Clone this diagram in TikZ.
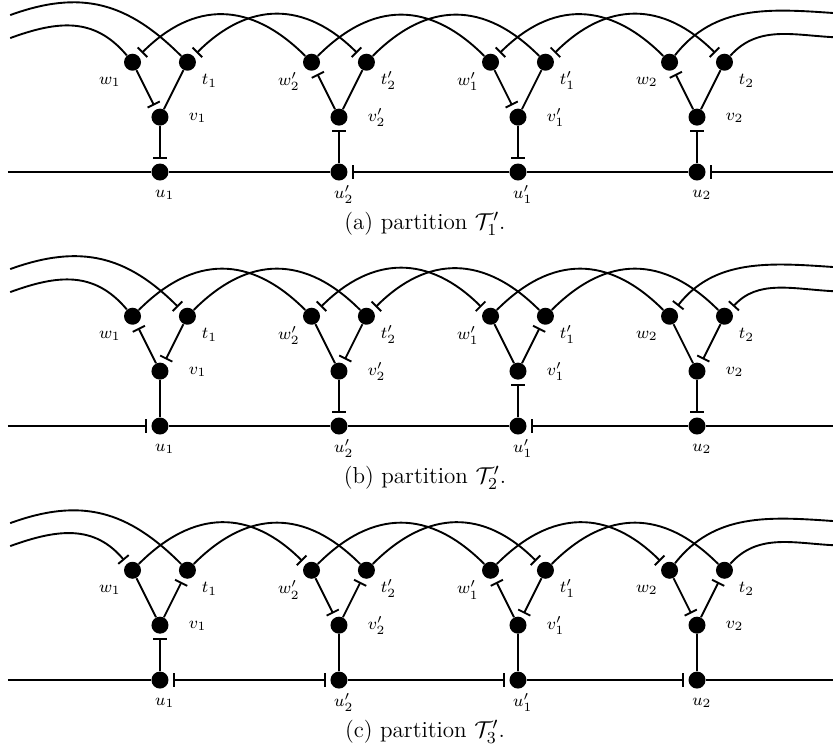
\documentclass[tikz,border=0pt]{standalone}
\usepackage{amsmath, amssymb}
\usetikzlibrary{arrows.meta, calc}

\begin{document}
\begin{tikzpicture}[
  vert/.style={circle, fill=black, inner sep=0pt, minimum size=0.285cm},
  lbl/.style={font=\footnotesize, inner sep=1pt},
  captext/.style={font=\fontsize{11}{13}\selectfont, inner sep=1pt},
  lnk/.style={line width=0.9pt},
  tee/.style={lnk, -{Bar[width=6.5pt]}, shorten >=2pt},
  eet/.style={lnk, {Bar[width=6.5pt]}-, shorten <=2pt},
  teeboth/.style={lnk, {Bar[width=6.5pt]}-{Bar[width=6.5pt]}, shorten >=2pt, shorten <=2pt},
  hop/.style={out=45, in=135, looseness=1.2},
  fromleft/.style={out=20, in=135, looseness=1.1},
  fromleftlow/.style={out=20, in=130, looseness=1.1},
  toright/.style={out=52, in=176},
  torightlow/.style={out=48, in=177}
]
\useasboundingbox (-2.681,2.883) rectangle (11.279,-9.754);

% vertices, labels and captions of the three partitions
\foreach \p/\dy/\k in {a/0/1, b/-4.257/2, c/-8.514/3} {
  \begin{scope}[yshift=\dy cm]
    \foreach \g/\pr/\n [count=\i from 0] in {1//1, 2p/'/2, 1p/'/1, 2//2} {
      \node[vert] (\p-w\g) at (3*\i-0.46, 1.84) {};
      \node[vert] (\p-t\g) at (3*\i+0.46, 1.84) {};
      \node[vert] (\p-v\g) at (3*\i, 0.92) {};
      \node[vert] (\p-u\g) at (3*\i, 0) {};
      \node[lbl] (\p-lw\g) at (3*\i-0.84, 1.51) {$w\pr_\n$};
      \node[lbl] (\p-lt\g) at (3*\i+0.83, 1.53) {$t\pr_\n$};
      \node[lbl] (\p-lv\g) at (3*\i+0.63, 0.91) {$v\pr_\n$};
      \node[lbl] (\p-lu\g) at (3*\i+0.08, -0.38) {$u\pr_\n$};
    }
    \coordinate (\p-L) at (-2.55, 0);
    \coordinate (\p-R) at (11.28, 0);
    \coordinate (\p-La) at (-2.51, 2.63);
    \coordinate (\p-Lb) at (-2.51, 2.245);
    \coordinate (\p-Ra) at (11.28, 2.665);
    \coordinate (\p-Rb) at (11.28, 2.26);
    \node[captext] (\p-cap) at (4.44, -0.87) {(\p) partition $\mathcal{T}'_\k$.};
  \end{scope}
}

% (a)
\draw[lnk] (a-L) -- (a-u1);
\draw[lnk] (a-u1) -- (a-u2p);
\draw[eet] (a-u2p) -- (a-u1p);
\draw[lnk] (a-u1p) -- (a-u2);
\draw[eet] (a-u2) -- (a-R);
\draw[tee] (a-w1) -- (a-v1);
\draw[lnk] (a-t1) -- (a-v1);
\draw[tee] (a-v1) -- (a-u1);
\draw[eet] (a-w2p) -- (a-v2p);
\draw[lnk] (a-t2p) -- (a-v2p);
\draw[eet] (a-v2p) -- (a-u2p);
\draw[tee] (a-w1p) -- (a-v1p);
\draw[lnk] (a-t1p) -- (a-v1p);
\draw[tee] (a-v1p) -- (a-u1p);
\draw[eet] (a-w2) -- (a-v2);
\draw[lnk] (a-t2) -- (a-v2);
\draw[eet] (a-v2) -- (a-u2);
\draw[lnk] (a-La) to[fromleft] (a-t1);
\draw[lnk] (a-Lb) to[fromleftlow] (a-w1);
\draw[eet] (a-w1) to[hop] (a-w2p);
\draw[teeboth] (a-t1) to[hop] (a-t2p);
\draw[lnk] (a-w2p) to[hop] (a-w1p);
\draw[lnk] (a-t2p) to[hop] (a-t1p);
\draw[eet] (a-w1p) to[hop] (a-w2);
\draw[teeboth] (a-t1p) to[hop] (a-t2);
\draw[lnk] (a-w2) to[toright] (a-Ra);
\draw[lnk] (a-t2) to[torightlow] (a-Rb);

% (b)
\draw[tee] (b-L) -- (b-u1);
\draw[lnk] (b-u1) -- (b-u2p);
\draw[lnk] (b-u2p) -- (b-u1p);
\draw[eet] (b-u1p) -- (b-u2);
\draw[lnk] (b-u2) -- (b-R);
\draw[eet] (b-w1) -- (b-v1);
\draw[tee] (b-t1) -- (b-v1);
\draw[lnk] (b-v1) -- (b-u1);
\draw[lnk] (b-w2p) -- (b-v2p);
\draw[tee] (b-t2p) -- (b-v2p);
\draw[tee] (b-v2p) -- (b-u2p);
\draw[lnk] (b-w1p) -- (b-v1p);
\draw[eet] (b-t1p) -- (b-v1p);
\draw[eet] (b-v1p) -- (b-u1p);
\draw[lnk] (b-w2) -- (b-v2);
\draw[tee] (b-t2) -- (b-v2);
\draw[tee] (b-v2) -- (b-u2);
\draw[tee] (b-La) to[fromleft] (b-t1);
\draw[lnk] (b-Lb) to[fromleftlow] (b-w1);
\draw[lnk] (b-w1) to[hop] (b-w2p);
\draw[lnk] (b-t1) to[hop] (b-t2p);
\draw[teeboth] (b-w2p) to[hop] (b-w1p);
\draw[eet] (b-t2p) to[hop] (b-t1p);
\draw[lnk] (b-w1p) to[hop] (b-w2);
\draw[lnk] (b-t1p) to[hop] (b-t2);
\draw[eet] (b-w2) to[toright] (b-Ra);
\draw[eet] (b-t2) to[torightlow] (b-Rb);

% (c)
\draw[lnk] (c-L) -- (c-u1);
\draw[teeboth] (c-u1) -- (c-u2p);
\draw[tee] (c-u2p) -- (c-u1p);
\draw[tee] (c-u1p) -- (c-u2);
\draw[lnk] (c-u2) -- (c-R);
\draw[lnk] (c-w1) -- (c-v1);
\draw[eet] (c-t1) -- (c-v1);
\draw[eet] (c-v1) -- (c-u1);
\draw[tee] (c-w2p) -- (c-v2p);
\draw[eet] (c-t2p) -- (c-v2p);
\draw[lnk] (c-v2p) -- (c-u2p);
\draw[eet] (c-w1p) -- (c-v1p);
\draw[tee] (c-t1p) -- (c-v1p);
\draw[lnk] (c-v1p) -- (c-u1p);
\draw[tee] (c-w2) -- (c-v2);
\draw[eet] (c-t2) -- (c-v2);
\draw[lnk] (c-v2) -- (c-u2);
\draw[lnk] (c-La) to[fromleft] (c-t1);
\draw[tee] (c-Lb) to[fromleftlow] (c-w1);
\draw[tee] (c-w1) to[hop] (c-w2p);
\draw[lnk] (c-t1) to[hop] (c-t2p);
\draw[lnk] (c-w2p) to[hop] (c-w1p);
\draw[tee] (c-t2p) to[hop] (c-t1p);
\draw[tee] (c-w1p) to[hop] (c-w2);
\draw[lnk] (c-t1p) to[hop] (c-t2);
\draw[lnk] (c-w2) to[toright] (c-Ra);
\draw[lnk] (c-t2) to[torightlow] (c-Rb);
\end{tikzpicture}
\end{document}
